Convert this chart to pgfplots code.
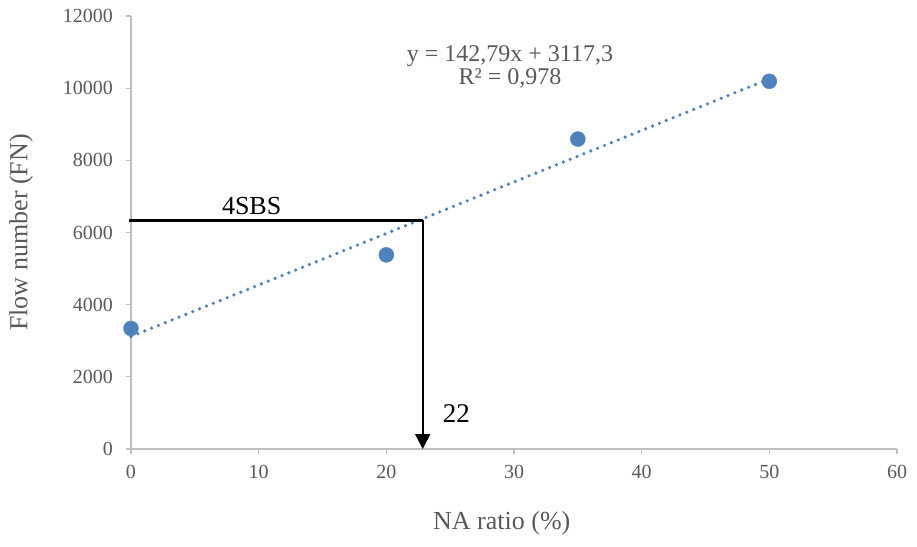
\documentclass[border=0pt]{standalone}
\usepackage{fontspec}
\setmainfont{Liberation Serif}
\usepackage{pgfplots}
\pgfplotsset{compat=1.18}
\usetikzlibrary{arrows.meta}
\definecolor{ptblue}{RGB}{79,129,189}
\definecolor{axgray}{RGB}{191,191,191}
\definecolor{txtgray}{RGB}{89,89,89}

\begin{document}
\begin{tikzpicture}
\path[use as bounding box] (-131pt,-97pt) rectangle (786pt,449pt);
\begin{axis}[
  at={(0,0)}, anchor=south west, scale only axis,
  width=766pt, height=433pt,
  xmin=0, xmax=60, ymin=0, ymax=12000,
  axis x line*=bottom, axis y line*=left,
  axis line style={axgray, line width=1.3pt},
  xtick={0,10,...,60}, ytick={0,2000,...,12000},
  scaled y ticks=false,
  tick style={axgray, line width=1.3pt},
  tick align=outside, major tick length=5pt,
  ticklabel style={font=\fontsize{20}{22}\selectfont, text=txtgray},
  /pgf/number format/assume math mode=true,
  /pgf/number format/1000 sep={},
  yticklabel style={inner sep=0pt, xshift=-13pt},
  xticklabel style={inner sep=0pt, yshift=-11pt},
  xlabel={NA ratio (\%)}, ylabel={Flow number (FN)},
  label style={font=\fontsize{26}{30}\selectfont, text=txtgray},
  xlabel style={at={(axis description cs:0.484,-0.171)}, anchor=center},
  ylabel style={at={(axis description cs:-0.1436,0.5)}, anchor=center},
  clip=false,
]
% trendline from the printed fit, x = 0 to 50
\addplot[ptblue, line width=3.6pt, line cap=round, dash pattern=on 0pt off 7.4pt]
  coordinates {(0,3117.3)(50,10256.8)};
\addplot[only marks, mark=*, mark size=7.5pt, color=ptblue]
  coordinates {(0,3340)(20,5380)(35,8590)(50,10190)};
% reading of 4SBS
\addplot[black, line width=3pt] coordinates {(-0.15,6340)(22.85,6340)};
\addplot[black, line width=2pt, -{Triangle[width=15pt,length=15pt]}]
  coordinates {(22.85,6340)(22.85,0)};
\node[font=\fontsize{26}{30}\selectfont, anchor=base] at (axis cs:9.45,6486) {4SBS};
\node[font=\fontsize{27}{30}\selectfont, anchor=base] at (axis cs:25.49,748) {22};
\node[font=\fontsize{24}{28}\selectfont, text=txtgray, anchor=base] at (axis cs:29.68,10734) {y = 142,79x + 3117,3};
\node[font=\fontsize{24}{28}\selectfont, text=txtgray, anchor=base] at (axis cs:29.68,10089) {R² = 0,978};
\end{axis}
\end{tikzpicture}
\end{document}
